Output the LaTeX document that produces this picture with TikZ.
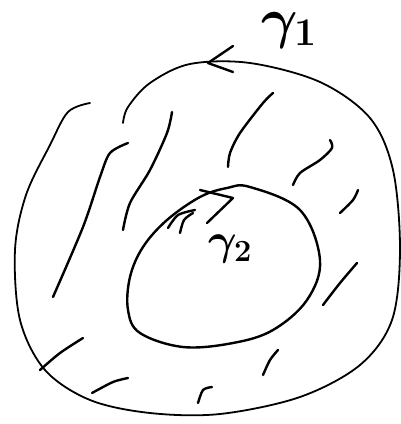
\RequirePackage{fix-cm}
\documentclass[tikz,border=0pt]{standalone}
\begin{document}
\begin{tikzpicture}[x=1pt,y=-1pt,
  outer/.style={line width=1.8pt,line cap=round,line join=round},
  hatch/.style={line width=2.4pt,line cap=round,line join=round},
  lbl/.style={inner sep=0pt}]
\useasboundingbox (0,0) rectangle (401,424);
% outer curve gamma_1
\draw[outer] plot[smooth,tension=0.55] coordinates {(90,103) (68,112) (50,145) (26,195) (15,250) (20,320) (45,370) (90,400) (150,413) (220,414) (300,397) (360,365) (392,320) (400,250) (393,170) (370,118) (320,82) (250,63) (190,64) (150,83) (128,107) (123,123)};
% arrow on gamma_1
\draw[hatch] (233,46) -- (208,63) -- (233,72);
% inner curve gamma_2
\draw[hatch] plot[smooth cycle,tension=0.6] coordinates {(250,187) (300,210) (320,260) (307,300) (273,330) (233,343) (183,347) (140,333) (128,310) (130,277) (143,247) (167,220) (200,197) (227,188)};
% arrow on gamma_2
\draw[hatch] (200,190) -- (233,198) -- (207,223);
% hatching
\draw[hatch] plot[smooth] coordinates {(128,143) (110,153) (100,177) (83,227) (53,297)};
\draw[hatch] plot[smooth] coordinates {(172,112) (167,133) (150,170) (130,203) (123,230)};
\draw[hatch] plot[smooth] coordinates {(273,93) (263,103) (240,133) (230,153) (228,167)};
\draw[hatch] plot[smooth] coordinates {(330,140) (332,148) (320,160) (300,173) (293,185)};
\draw[hatch] plot[smooth] coordinates {(358,190) (353,200) (340,213)};
\draw[hatch] plot[smooth] coordinates {(357,263) (340,283) (323,305)};
\draw[hatch] plot[smooth] coordinates {(278,350) (270,360) (263,375)};
\draw[hatch] plot[smooth] coordinates {(212,387) (203,390) (198,403)};
\draw[hatch] plot[smooth] coordinates {(128,378) (113,382) (92,393)};
\draw[hatch] plot[smooth] coordinates {(83,338) (60,353) (40,370)};
\draw[hatch] plot[smooth] coordinates {(168,228) (178,215) (195,210)};
\draw[hatch] plot[smooth] coordinates {(180,233) (184,220) (193,213)};
% labels
\node[lbl,font=\fontsize{56}{56}\selectfont\boldmath] (g1) at (289,30) {$\gamma_{1}$};
\node[lbl,font=\fontsize{44}{44}\selectfont\boldmath] (g2) at (230,249) {$\gamma_{2}$};
\end{tikzpicture}
\end{document}
